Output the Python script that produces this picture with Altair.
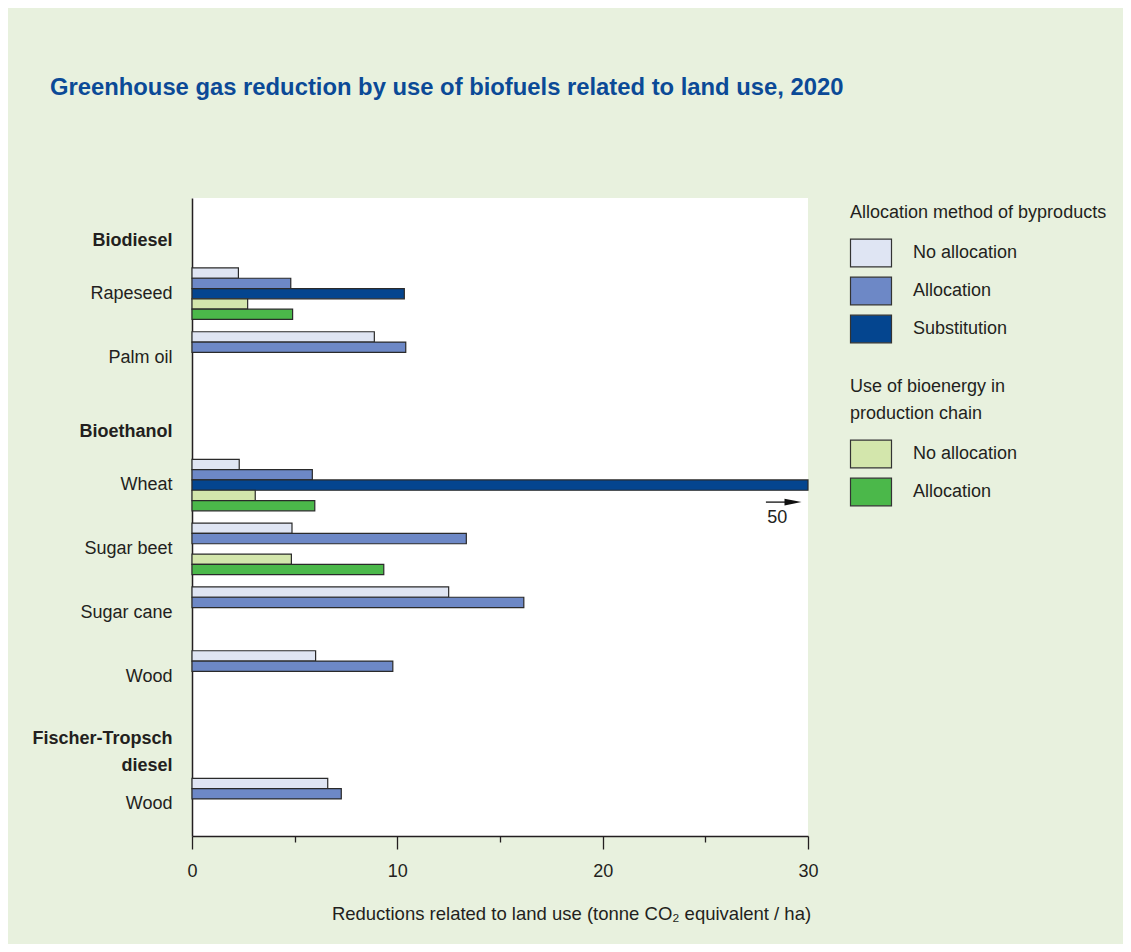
import altair as alt
import pandas as pd

# ---- data ----
rows = ["Biodiesel", "Rapeseed", "Palm oil", "Bioethanol", "Wheat", "Sugar beet",
        "Sugar cane", "Wood", "Fischer-Tropsch diesel", "Wood (FT)"]
headers = ["Biodiesel", "Bioethanol", "Fischer-Tropsch diesel"]
crops = ["Rapeseed", "Palm oil", "Wheat", "Sugar beet", "Sugar cane", "Wood", "Wood (FT)"]

byp_no_alloc = [2.26, 8.88, 2.3, 4.87, 12.5, 6.02, 6.61]
byp_alloc = [4.81, 10.41, 5.86, 13.36, 16.16, 9.78, 7.27]
byp_substitution = [10.34, None, 50, None, None, None, None]
bio_no_alloc = [2.71, None, 3.08, 4.84, None, None, None]
bio_alloc = [4.9, None, 5.98, 9.34, None, None, None]

slots = ["byp_no", "byp_alloc", "byp_sub", "bio_no", "bio_alloc"]
byp_labels = ["No allocation", "Allocation", "Substitution"]
byp_colors = ["#dfe5f3", "#6d88c6", "#04458f"]
bio_labels = ["No allocation", "Allocation"]
bio_colors = ["#d3e6ac", "#4bb84a"]

annotation_crop = ["Wheat"]
annotation_value = [50]
annotation_text = ["50"]

x_ticks = [0, 5, 10, 15, 20, 25, 30]

# ---- long tables ----
r1 = []
for series, slot, lab in zip([byp_no_alloc, byp_alloc, byp_substitution], slots[:3], byp_labels):
    for c, v in zip(crops, series):
        if v is not None:
            r1.append({"crop": c, "value": v, "slot": slot, "label": lab})
df1 = pd.DataFrame(r1)

r2 = []
for series, slot, lab in zip([bio_no_alloc, bio_alloc], slots[3:], bio_labels):
    for c, v in zip(crops, series):
        if v is not None:
            r2.append({"crop": c, "value": v, "slot": slot, "label": lab})
df2 = pd.DataFrame(r2)

ann = pd.DataFrame({"crop": annotation_crop, "value": annotation_value, "text": annotation_text})

FONT = "Liberation Sans"
TXT = "#231f20"
FS = 18

hdr_test = "indexof(['Biodiesel','Bioethanol','Fischer-Tropsch diesel'], datum.value) >= 0"

x_enc = alt.X(
    "value:Q",
    scale=alt.Scale(domain=[0, 30], clamp=True, nice=False),
    axis=alt.Axis(
        values=x_ticks,
        labelExpr="datum.value % 10 == 0 ? datum.label : ''",
        tickSize={"condition": {"test": "datum.value % 10 != 0", "value": 6}, "value": 13},
        tickColor=TXT, tickWidth=1.3, domainColor=TXT, domainWidth=1.5,
        grid=False, labelFontSize=FS, labelColor=TXT, labelPadding=13, labelFlush=False,
        title="Reductions related to land use (tonne CO\u2082 equivalent / ha)",
        titleFontSize=18.5, titleFontWeight="normal", titleColor=TXT, titlePadding=24,
        titleX=379, titleAnchor="start", titleAlign="center",
        labelFont=FONT, titleFont=FONT,
    ),
)

y_enc = alt.Y(
    "crop:N",
    scale=alt.Scale(domain=rows, paddingInner=0.193, paddingOuter=0.0965),
    axis=alt.Axis(
        title=None, ticks=False, domainColor=TXT, domainWidth=1.5,
        labelFontSize=FS, labelColor=TXT, labelPadding=20, labelFont=FONT,
        labelLineHeight=27, labelLimit=300,
        labelExpr="datum.value == 'Wood (FT)' ? 'Wood' : (datum.value == 'Fischer-Tropsch diesel' ? ['Fischer-Tropsch', 'diesel'] : datum.label)",
        labelFontWeight={"condition": {"test": hdr_test, "value": "bold"}, "value": "normal"},
        labelOffset={"condition": [
            {"test": "datum.value == 'Fischer-Tropsch diesel'", "value": -1.5},
            {"test": hdr_test, "value": 11},
        ], "value": 0},
    ),
)

yoff = alt.YOffset("slot:N", scale=alt.Scale(domain=slots, paddingInner=0, paddingOuter=0))

rect_shape = "M-1.025,-0.69H1.025V0.69H-1.025Z"

leg_common = dict(
    orient="none", symbolType=rect_shape, symbolSize=1600, symbolStrokeColor="#333333",
    symbolStrokeWidth=1.2, symbolOpacity=1, labelFontSize=FS, labelColor=TXT, labelFont=FONT,
    titleFontSize=FS, titleFontWeight="normal", titleColor=TXT, titleFont=FONT,
    labelOffset=21, rowPadding=0, padding=0, titleLimit=400, labelLimit=300,
    direction="vertical",
)

bars1 = alt.Chart(df1).mark_bar(stroke="#2a2a2a", strokeWidth=1.2).encode(
    x=x_enc, y=y_enc, yOffset=yoff,
    color=alt.Color("label:N", scale=alt.Scale(domain=byp_labels, range=byp_colors),
                    legend=alt.Legend(title="Allocation method of byproducts", legendX=658, legendY=6,
                                      titlePadding=10, **leg_common)),
)

bars2 = alt.Chart(df2).mark_bar(stroke="#2a2a2a", strokeWidth=1.2).encode(
    x=x_enc, y=y_enc, yOffset=yoff,
    color=alt.Color("label:N", scale=alt.Scale(domain=bio_labels, range=bio_colors),
                    legend=alt.Legend(title=["Use of bioenergy in", "production chain"], legendX=658,
                                      legendY=180, titlePadding=10, titleLineHeight=27, **leg_common)),
)

arrow_line = alt.Chart(ann).mark_rule(color="#111111", strokeWidth=1.3, yOffset=17).encode(
    x=alt.datum(27.95), x2=alt.datum(28.9), y=alt.Y("crop:N")
)
arrow_head = alt.Chart(ann).mark_point(
    shape="M-1,-0.4L1,0L-1,0.4Z", size=289, filled=True, color="#111111", opacity=1, yOffset=17
).encode(x=alt.datum(29.27), y=alt.Y("crop:N"))
arrow_text = alt.Chart(ann).mark_text(
    fontSize=FS, font=FONT, color=TXT, dy=33, align="center", baseline="middle"
).encode(x=alt.datum(28.5), y=alt.Y("crop:N"), text="text:N")

chart = alt.layer(bars1, bars2, arrow_line, arrow_head, arrow_text).resolve_scale(
    color="independent"
).properties(
    width=616, height=638,
    autosize=alt.AutoSizeParams(type="none"),
    padding={"left": 184, "top": 190, "right": 315, "bottom": 108},
    title=alt.TitleParams(
        text="Greenhouse gas reduction by use of biofuels related to land use, 2020",
        anchor="start", frame="group", dx=-142, offset=79, baseline="alphabetic",
        fontSize=23.8, font=FONT, fontWeight="bold", color="#0b4a97",
    ),
).configure(
    background="#e8f1de", font=FONT
).configure_view(fill="white", strokeWidth=0)

chart.save("out.html", embed_options={"renderer": "svg", "actions": False})
